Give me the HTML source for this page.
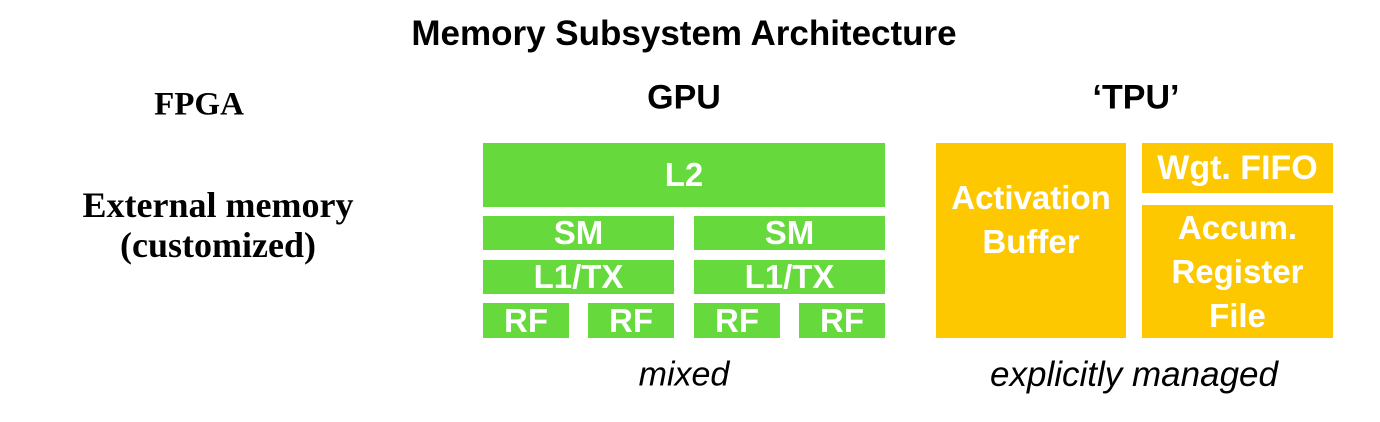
<!DOCTYPE html>
<html><head><style>
body{margin:0;width:1380px;height:422px;background:#fff;position:relative;overflow:hidden;font-family:"Liberation Sans",sans-serif}
.t{position:absolute;white-space:nowrap;transform:translate(-50%,-50%)}
.b{position:absolute;color:#fff;font-weight:bold;display:flex;align-items:center;justify-content:center;text-align:center;line-height:44px;white-space:nowrap}
.g{background:#66da3c;font-size:33px}
.y{background:#fdc800;font-size:33px}
.s{font-family:"Liberation Serif",serif;font-weight:bold;font-size:36px}
</style></head><body>
<div class="t" style="left:684px;top:34px;font-size:35px;font-weight:bold">Memory Subsystem Architecture</div>
<div class="t s" style="left:199px;top:105px;font-size:33px">FPGA</div>
<div class="t" style="left:684px;top:98px;font-size:34px;font-weight:bold">GPU</div>
<div class="t" style="left:1136px;top:98px;font-size:34px;font-weight:bold">‘TPU’</div>
<div class="t s" style="left:218px;top:205px">External memory</div>
<div class="t s" style="left:218px;top:245px">(customized)</div>

<div class="b g" style="left:483px;top:143px;width:402px;height:64px">L2</div>
<div class="b g" style="left:483px;top:216px;width:191px;height:34px">SM</div>
<div class="b g" style="left:694px;top:216px;width:191px;height:34px">SM</div>
<div class="b g" style="left:483px;top:260px;width:191px;height:34px">L1/TX</div>
<div class="b g" style="left:694px;top:260px;width:191px;height:34px">L1/TX</div>
<div class="b g" style="left:483px;top:303px;width:86px;height:35px">RF</div>
<div class="b g" style="left:588px;top:303px;width:86px;height:35px">RF</div>
<div class="b g" style="left:694px;top:303px;width:86px;height:35px">RF</div>
<div class="b g" style="left:799px;top:303px;width:86px;height:35px">RF</div>

<div class="b y" style="left:936px;top:143px;width:190px;height:195px;padding-bottom:42px;box-sizing:border-box">Activation<br>Buffer</div>
<div class="b y" style="left:1142px;top:143px;width:191px;height:50px;font-size:34px">Wgt. FIFO</div>
<div class="b y" style="left:1142px;top:205px;width:191px;height:133px">Accum.<br>Register<br>File</div>

<div class="t" style="left:684px;top:375px;font-size:34px;font-style:italic">mixed</div>
<div class="t" style="left:1134px;top:375px;font-size:35px;font-style:italic">explicitly managed</div>
</body></html>
